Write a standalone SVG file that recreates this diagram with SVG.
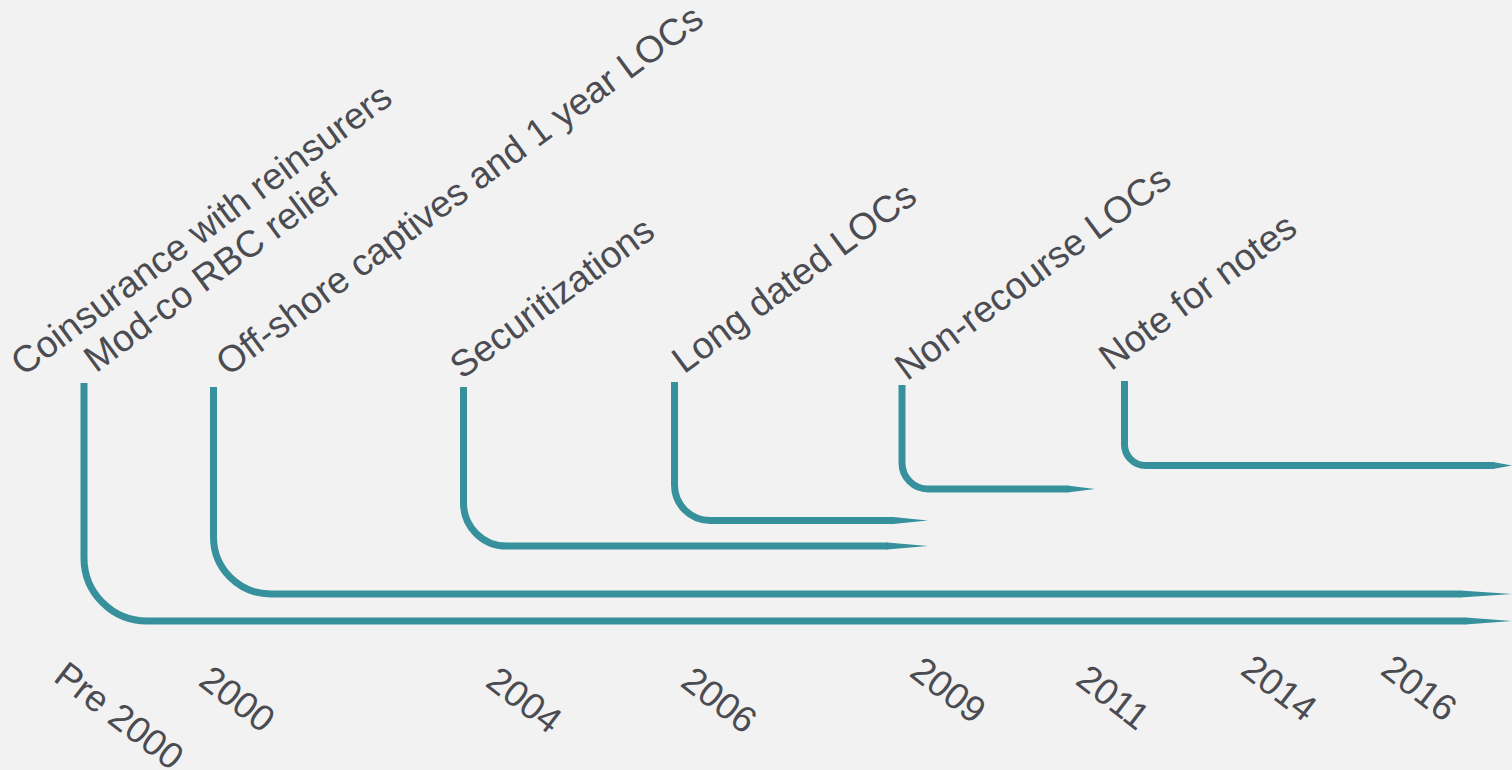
<svg xmlns="http://www.w3.org/2000/svg" width="1512" height="770" viewBox="0 0 1512 770">
<style>
.ln{fill:none;stroke:#36919c;stroke-width:7;stroke-linecap:butt}
.hd{fill:#36919c}
.lb{font-family:"Liberation Sans",Arial,sans-serif;font-size:37.3px;fill:#4b4c52}
.yr{font-family:"Liberation Sans",Arial,sans-serif;font-size:37px;fill:#4b4c52}
</style>
<rect width="1512" height="770" fill="#f2f2f2"/>
<g id="connectors">
<path class="ln" d="M84,383 V558 A63,63 0 0 0 147,621 H1466"/>
<polygon class="hd" points="1465,617.5 1512,621 1465,624.5"/>
<path class="ln" d="M213.5,387 V537 A57,57 0 0 0 270.5,594 H1461"/>
<polygon class="hd" points="1460,590.5 1512,594 1460,597.5"/>
<path class="ln" d="M463.5,387 V503 A43,43 0 0 0 506.5,546 H888"/>
<polygon class="hd" points="887,542.5 928,546 887,549.5"/>
<path class="ln" d="M674.5,382 V485 A35.5,35.5 0 0 0 710,520.5 H894"/>
<polygon class="hd" points="893,517 928,520.5 893,524"/>
<path class="ln" d="M902,385 V463 A26,26 0 0 0 928,489 H1068"/>
<polygon class="hd" points="1067,485.5 1095,489 1067,492.5"/>
<path class="ln" d="M1124.5,381 V444 A21,21 0 0 0 1145.5,465.5 H1494"/>
<polygon class="hd" points="1493,462 1512,465.5 1493,469"/>
</g>
<g id="n-pre2000">
<text class="lb" transform="translate(23,377) rotate(-36.5)">Coinsurance with reinsurers</text>
<text class="lb" transform="translate(96,373.5) rotate(-36.5)">Mod-co RBC relief</text>
<text class="yr" transform="translate(52,680) rotate(37.5)">Pre 2000</text>
</g>
<g id="n-2000">
<text class="lb" transform="translate(228,377) rotate(-36.5)">Off-shore captives and 1 year LOCs</text>
<text class="yr" transform="translate(197,684) rotate(37.5)">2000</text>
</g>
<g id="n-2004">
<text class="lb" transform="translate(462,380) rotate(-36.5)">Securitizations</text>
<text class="yr" transform="translate(484,685) rotate(37.5)">2004</text>
</g>
<g id="n-2006">
<text class="lb" transform="translate(684,374.5) rotate(-36.5)">Long dated LOCs</text>
<text class="yr" transform="translate(679,685) rotate(37.5)">2006</text>
</g>
<g id="n-2009">
<text class="lb" transform="translate(907,381.5) rotate(-36.5)">Non-recourse LOCs</text>
<text class="yr" transform="translate(908,675) rotate(37.5)">2009</text>
</g>
<g id="n-2011">
<text class="yr" transform="translate(1074,683) rotate(37.5)">2011</text>
</g>
<g id="n-2014">
<text class="lb" transform="translate(1111,371.5) rotate(-36.5)">Note for notes</text>
<text class="yr" transform="translate(1239,673) rotate(37.5)">2014</text>
</g>
<g id="n-2016">
<text class="yr" transform="translate(1379,673) rotate(37.5)">2016</text>
</g>
</svg>
